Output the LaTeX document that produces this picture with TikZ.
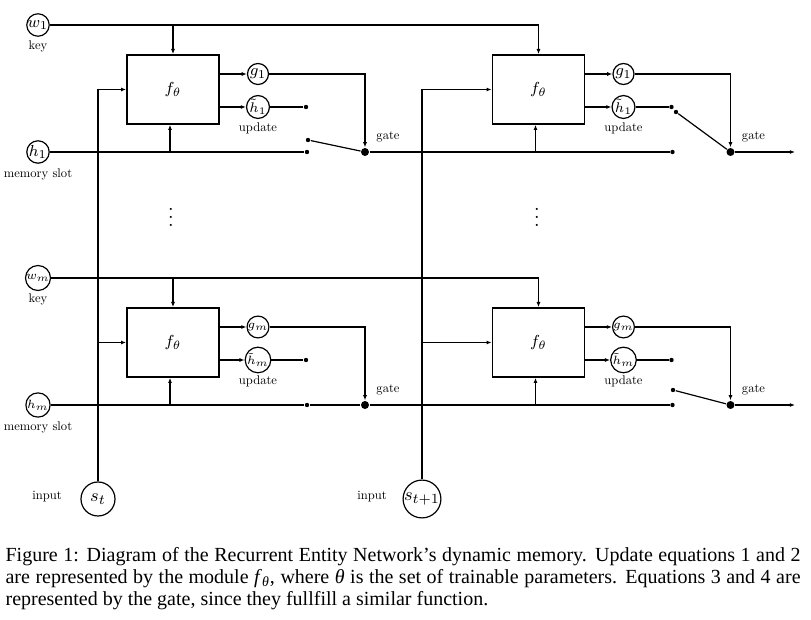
\documentclass[tikz,border=0pt]{standalone}
\usepackage{fontspec}
\usepackage{amsmath}
\newfontfamily\capfont{Liberation Serif}
\newfontfamily\lblfont{lmroman10-regular}[Extension=.otf]
\usetikzlibrary{arrows.meta}

\tikzset{
  var/.style={circle, draw, inner sep=0pt, minimum size=10.5pt},
  inp/.style={circle, draw, inner sep=0pt, minimum size=17pt, font=\fontsize{9.5}{10}\selectfont},
  fbox/.style={draw, line width=0.8pt, minimum width=46pt, minimum height=34.5pt, font=\fontsize{8.5}{9}\selectfont},
  lbl/.style={font=\lblfont\fontsize{6.3}{7}\selectfont, inner sep=0pt},
  dot/.style={circle, fill, inner sep=0pt, minimum size=2.2pt},
  gatedot/.style={circle, fill, inner sep=0pt, minimum size=4pt},
  arr/.style={-{Latex[length=2.6pt,width=2pt]}},
}

\begin{document}
\begin{tikzpicture}[x=0.5pt, y=-0.5pt, line width=0.6pt]
  \useasboundingbox (0,0) rectangle (811,620);

  % one row of cells per memory slot
  \foreach \r/\yo/\fs/\us in {1/0/8/7, m/253/6.5/6} {
    \node[var, font=\fontsize{\fs}{\fs}\selectfont] (w\r) at (38,25+\yo) {$w_\r$};
    \node[lbl] (key\r) at (38,46+\yo) {key};
    \node[var, font=\fontsize{\fs}{\fs}\selectfont] (h\r) at (38,152+\yo) {$h_\r$};
    \node[lbl] (slot\r) at (38,174+\yo) {memory slot};

    \foreach \c/\xo in {a/0, b/365.5} {
      \node[fbox] (f\c\r) at (173+\xo,89.5+\yo) {$f_\theta$};
      \node[var, font=\fontsize{\fs}{\fs}\selectfont] (g\c\r) at (258+\xo,74+\yo) {$g_\r$};
      \node[var, font=\fontsize{\us}{\us}\selectfont] (u\c\r) at (258+\xo,107+\yo) {$\tilde{h}_\r$};
      \node[lbl] (upd\c\r) at (258+\xo,128+\yo) {update};
      \node[dot] (ud\c\r) at (306+\xo,107+\yo) {};
      \node[dot] (md\c\r) at (307+\xo,152+\yo) {};
      \node[gatedot] (gt\c\r) at (365+\xo,152+\yo) {};
      \node[lbl] (gl\c\r) at (388+\xo,137+\yo) {gate};
      \coordinate (fin\c\r) at ([xshift=-1.5pt]f\c\r.south);

      \draw[arr] (f\c\r.east |- g\c\r) -- (g\c\r);
      \draw[arr] (f\c\r.east |- u\c\r) -- (u\c\r);
      \draw (u\c\r) -- (ud\c\r);
      \draw[arr] (g\c\r) -| (gt\c\r);
      \draw[arr] (fin\c\r |- md\c\r) -- (fin\c\r);
    }

    \draw[arr] (w\r -| fa\r) -- (fa\r);
    \draw[arr] (w\r) -| (fb\r);
    \draw (h\r) -- (mda\r);
    \draw (gta\r) -- (mdb\r);
    \coordinate (out\r) at (795,152+\yo);
    \draw[arr] (gtb\r) -- (out\r);
  }

  % switches
  \node[dot] (swa1) at (308,140) {};
  \draw (swa1) -- (gta1);
  \node[dot] (swb1) at (676,112) {};
  \draw (swb1) -- (gtb1);
  \draw (mdam) -- (gtam);
  \node[dot] (swbm) at (673,390) {};
  \draw (swbm) -- (gtbm);

  % inputs
  \node[inp] (s0) at (98,499) {$s_t$};
  \node[inp] (s1) at (422,499) {$s_{t+1}$};
  \node[lbl] (in0) at (47,497) {input};
  \node[lbl] (in1) at (372,497) {input};
  \draw[arr] (s0) |- (fa1);
  \draw[arr] (s0 |- fam) -- (fam);
  \draw[arr] (s1) |- (fb1);
  \draw[arr] (s1 |- fbm) -- (fbm);

  \node (vd0) at (171,211) {$\vdots$};
  \node (vd1) at (537,211) {$\vdots$};

  \node[anchor=north west, inner sep=0pt, text width=397.5pt, align=justify,
        font=\capfont\fontsize{10}{11}\selectfont] (cap) at (5,547)
    {Figure 1: Diagram of the Recurrent Entity Network’s dynamic memory. Update equations 1 and 2 are represented by the module \textit{f}\textsubscript{\textit{θ}}, where \textit{θ} is the set of trainable parameters. Equations 3 and 4 are represented by the gate, since they fullfill a similar function.};
\end{tikzpicture}
\end{document}
